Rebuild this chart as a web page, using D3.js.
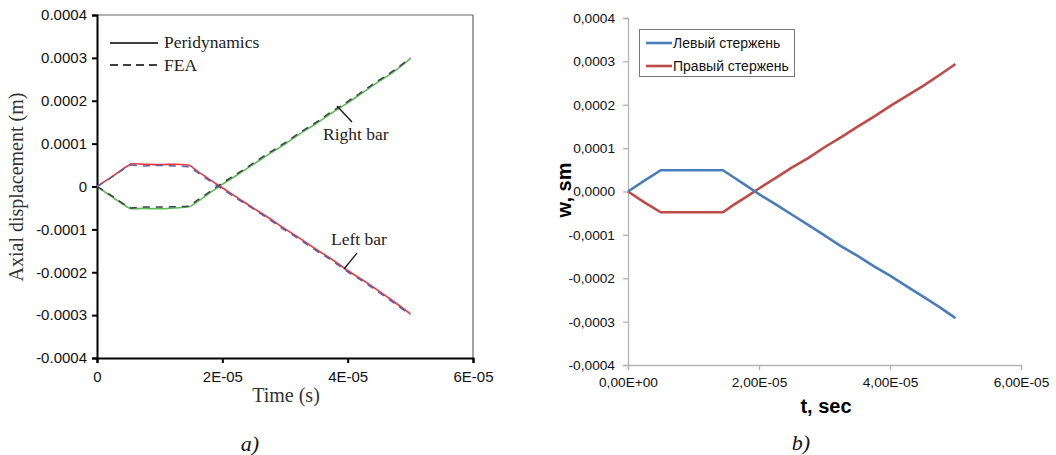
<!DOCTYPE html>
<html><head><meta charset="utf-8">
<script src="https://cdn.jsdelivr.net/npm/d3@7"></script>
<style>
body{margin:0;background:#fff;}
svg{display:block;}
</style></head>
<body>
<svg id="chart" width="1056" height="455"></svg>
<script>
// ---------- DATA ----------
// Panel a) time (s)
const timeA = [0,0.25e-5,0.5e-5,0.55e-5,0.75e-5,1.0e-5,1.25e-5,1.45e-5,1.6e-5,1.8e-5,2.0e-5,2.25e-5,2.5e-5,2.75e-5,3.0e-5,3.25e-5,3.5e-5,3.75e-5,4.0e-5,4.25e-5,4.5e-5,4.75e-5,5.0e-5];
// values in units of 1e-4 m
const leftBarPeri  = [0,0.24,0.49,0.53,0.52,0.51,0.52,0.50,0.36,0.16,-0.03,-0.27,-0.51,-0.74,-0.99,-1.22,-1.47,-1.70,-1.96,-2.19,-2.44,-2.70,-2.97];
const leftBarFEA   = [0,0.23,0.47,0.50,0.48,0.49,0.48,0.46,0.33,0.13,-0.06,-0.30,-0.53,-0.77,-1.02,-1.25,-1.50,-1.73,-1.99,-2.22,-2.47,-2.73,-3.00];
const rightBarPeri = [0,-0.25,-0.49,-0.52,-0.51,-0.52,-0.50,-0.48,-0.36,-0.15,0.05,0.28,0.52,0.76,0.99,1.24,1.47,1.72,1.95,2.20,2.45,2.69,2.98];
const rightBarFEA  = [0,-0.23,-0.47,-0.50,-0.48,-0.48,-0.47,-0.46,-0.32,-0.12,0.08,0.31,0.55,0.79,1.02,1.27,1.50,1.75,1.98,2.23,2.48,2.72,3.00];
const ticksYA = [-0.0004,-0.0003,-0.0002,-0.0001,0,0.0001,0.0002,0.0003,0.0004];
const tickLabelsYA = ["-0.0004","-0.0003","-0.0002","-0.0001","0","0.0001","0.0002","0.0003","0.0004"];
const ticksXA = [0,2e-5,4e-5,6e-5];
const tickLabelsXA = ["0","2E-05","4E-05","6E-05"];

// Panel b)
const timeB = [0,0.25e-5,0.5e-5,0.75e-5,1.0e-5,1.25e-5,1.45e-5,1.6e-5,1.8e-5,2.0e-5,2.25e-5,2.5e-5,2.75e-5,3.0e-5,3.25e-5,3.5e-5,3.75e-5,4.0e-5,4.25e-5,4.5e-5,4.75e-5,5.0e-5];
const leftRod  = [0,0.25,0.49,0.49,0.49,0.49,0.49,0.34,0.14,-0.06,-0.29,-0.53,-0.77,-1.01,-1.26,-1.48,-1.72,-1.94,-2.18,-2.42,-2.66,-2.92];
const rightRod = [0,-0.25,-0.48,-0.48,-0.48,-0.48,-0.48,-0.32,-0.13,0.07,0.31,0.55,0.77,1.02,1.25,1.49,1.72,1.97,2.20,2.43,2.68,2.94];
const ticksYB = ticksYA;
const tickLabelsYB = ["-0,0004","-0,0003","-0,0002","-0,0001","0,0000","0,0001","0,0002","0,0003","0,0004"];
const ticksXB = [0,2e-5,4e-5,6e-5];
const tickLabelsXB = ["0,00E+00","2,00E-05","4,00E-05","6,00E-05"];
const legendB = ["Левый стержень","Правый стержень"];

// ---------- DRAW ----------
const svg = d3.select("#chart");
const SANS = "'Liberation Sans', Arial, sans-serif";
const SERIF = "'Liberation Serif', 'Times New Roman', serif";

function pts(t, v){ return t.map((d,i)=>[d, v[i]*1e-4]); }

// ===== Panel a =====
const xA = d3.scaleLinear().domain([0,6e-5]).range([97,473]);
const yA = d3.scaleLinear().domain([-4e-4,4e-4]).range([358,15]);
const gA = svg.append("g");

// frame top/right
gA.append("line").attr("x1",xA(0)).attr("x2",xA(6e-5)).attr("y1",yA(4e-4)).attr("y2",yA(4e-4)).attr("stroke","#666").attr("stroke-width",1.2);
gA.append("line").attr("x1",xA(6e-5)).attr("x2",xA(6e-5)).attr("y1",yA(4e-4)).attr("y2",yA(-4e-4)).attr("stroke","#666").attr("stroke-width",1.2);

const axYA = gA.append("g").attr("transform",`translate(${xA(0)},0)`)
  .call(d3.axisLeft(yA).tickValues(ticksYA).tickFormat((d,i)=>tickLabelsYA[i]).tickSizeOuter(0).tickSize(5).tickPadding(5));
const axXA = gA.append("g").attr("transform",`translate(0,${yA(-4e-4)})`)
  .call(d3.axisBottom(xA).tickValues(ticksXA).tickFormat((d,i)=>tickLabelsXA[i]).tickSizeOuter(0).tickSize(5).tickPadding(8));
[axYA,axXA].forEach(a=>{
  a.select(".domain").attr("stroke","#000").attr("stroke-width",2);
  a.selectAll(".tick line").attr("stroke","#000").attr("stroke-width",2);
  a.selectAll("text").attr("font-family",SANS).attr("font-size",15).attr("fill","#111");
});

const lineA = d3.line().x(d=>xA(d[0])).y(d=>yA(d[1])).curve(d3.curveMonotoneX);
gA.append("path").attr("d",lineA(pts(timeA,rightBarPeri))).attr("fill","none").attr("stroke","#5dbb55").attr("stroke-width",1.6);
gA.append("path").attr("d",lineA(pts(timeA,leftBarPeri))).attr("fill","none").attr("stroke","#e8343c").attr("stroke-width",1.6);
gA.append("path").attr("d",lineA(pts(timeA,rightBarFEA))).attr("fill","none").attr("stroke","#3c3f48").attr("stroke-width",1.5).attr("stroke-dasharray","7,6");
gA.append("path").attr("d",lineA(pts(timeA,leftBarFEA))).attr("fill","none").attr("stroke","#5a5fa8").attr("stroke-width",1.5).attr("stroke-dasharray","7,6");

// legend a
gA.append("line").attr("x1",110).attr("x2",158).attr("y1",43).attr("y2",43).attr("stroke","#000").attr("stroke-width",1.4);
gA.append("line").attr("x1",110).attr("x2",158).attr("y1",65).attr("y2",65).attr("stroke","#000").attr("stroke-width",1.4).attr("stroke-dasharray","8,5");
gA.append("text").attr("x",164).attr("y",48).text("Peridynamics").attr("font-family",SERIF).attr("font-size",17.5).attr("fill","#222");
gA.append("text").attr("x",164).attr("y",71).text("FEA").attr("font-family",SERIF).attr("font-size",17.5).attr("fill","#222");

// annotations
gA.append("line").attr("x1",337).attr("y1",106).attr("x2",352).attr("y2",122).attr("stroke","#111").attr("stroke-width",1.2);
gA.append("text").attr("x",323).attr("y",140).text("Right bar").attr("font-family",SERIF).attr("font-size",17.5).attr("fill","#222");
gA.append("line").attr("x1",357).attr("y1",253).attr("x2",344).attr("y2",269).attr("stroke","#111").attr("stroke-width",1.2);
gA.append("text").attr("x",331).attr("y",245).text("Left bar").attr("font-family",SERIF).attr("font-size",17.5).attr("fill","#222");

// axis titles
gA.append("text").attr("transform","translate(23,187) rotate(-90)").attr("text-anchor","middle")
  .text("Axial displacement (m)").attr("font-family",SERIF).attr("font-size",20).attr("fill","#333");
gA.append("text").attr("x",286).attr("y",402).attr("text-anchor","middle")
  .text("Time (s)").attr("font-family",SERIF).attr("font-size",20).attr("fill","#333");
gA.append("text").attr("x",250).attr("y",451).attr("text-anchor","middle")
  .text("a)").attr("font-family",SERIF).attr("font-style","italic").attr("font-size",22).attr("fill","#111");

// ===== Panel b =====
const xB = d3.scaleLinear().domain([0,6e-5]).range([628,1021]);
const yB = d3.scaleLinear().domain([-4e-4,4e-4]).range([365,18]);
const gB = svg.append("g");
const axYB = gB.append("g").attr("transform",`translate(${xB(0)},0)`)
  .call(d3.axisLeft(yB).tickValues(ticksYB).tickFormat((d,i)=>tickLabelsYB[i]).tickSizeOuter(0).tickSize(5).tickPadding(8));
const axXB = gB.append("g").attr("transform",`translate(0,${yB(-4e-4)})`)
  .call(d3.axisBottom(xB).tickValues(ticksXB).tickFormat((d,i)=>tickLabelsXB[i]).tickSizeOuter(0).tickSize(5).tickPadding(7));
[axYB,axXB].forEach(a=>{
  a.select(".domain").attr("stroke","#b4b4b4").attr("stroke-width",1.3);
  a.selectAll(".tick line").attr("stroke","#b4b4b4").attr("stroke-width",1.3);
  a.selectAll("text").attr("font-family",SANS).attr("font-size",13.7).attr("fill","#111");
});

const lineB = d3.line().x(d=>xB(d[0])).y(d=>yB(d[1]));
gB.append("path").attr("d",lineB(pts(timeB,rightRod))).attr("fill","none").attr("stroke","#be4b48").attr("stroke-width",2.6);
gB.append("path").attr("d",lineB(pts(timeB,leftRod))).attr("fill","none").attr("stroke","#4a7ebb").attr("stroke-width",2.6);

// legend b
gB.append("rect").attr("x",639.5).attr("y",29.5).attr("width",155).attr("height",47).attr("fill","#fff").attr("stroke","#777").attr("stroke-width",1);
const legColors = ["#4a7ebb","#be4b48"];
legendB.forEach((name,i)=>{
  const y = 43 + i*23;
  gB.append("line").attr("x1",646).attr("x2",672).attr("y1",y).attr("y2",y).attr("stroke",legColors[i]).attr("stroke-width",2.6);
  gB.append("text").attr("x",673).attr("y",y+5).text(name).attr("font-family",SANS).attr("font-size",14).attr("fill","#111");
});

gB.append("text").attr("transform","translate(571,190) rotate(-90)").attr("text-anchor","middle")
  .text("w, sm").attr("font-family",SANS).attr("font-weight","bold").attr("font-size",20).attr("fill","#000");
gB.append("text").attr("x",826).attr("y",413).attr("text-anchor","middle")
  .text("t, sec").attr("font-family",SANS).attr("font-weight","bold").attr("font-size",20).attr("fill","#000");
gB.append("text").attr("x",801).attr("y",450).attr("text-anchor","middle")
  .text("b)").attr("font-family",SERIF).attr("font-style","italic").attr("font-size",22).attr("fill","#111");
</script>
</body></html>
